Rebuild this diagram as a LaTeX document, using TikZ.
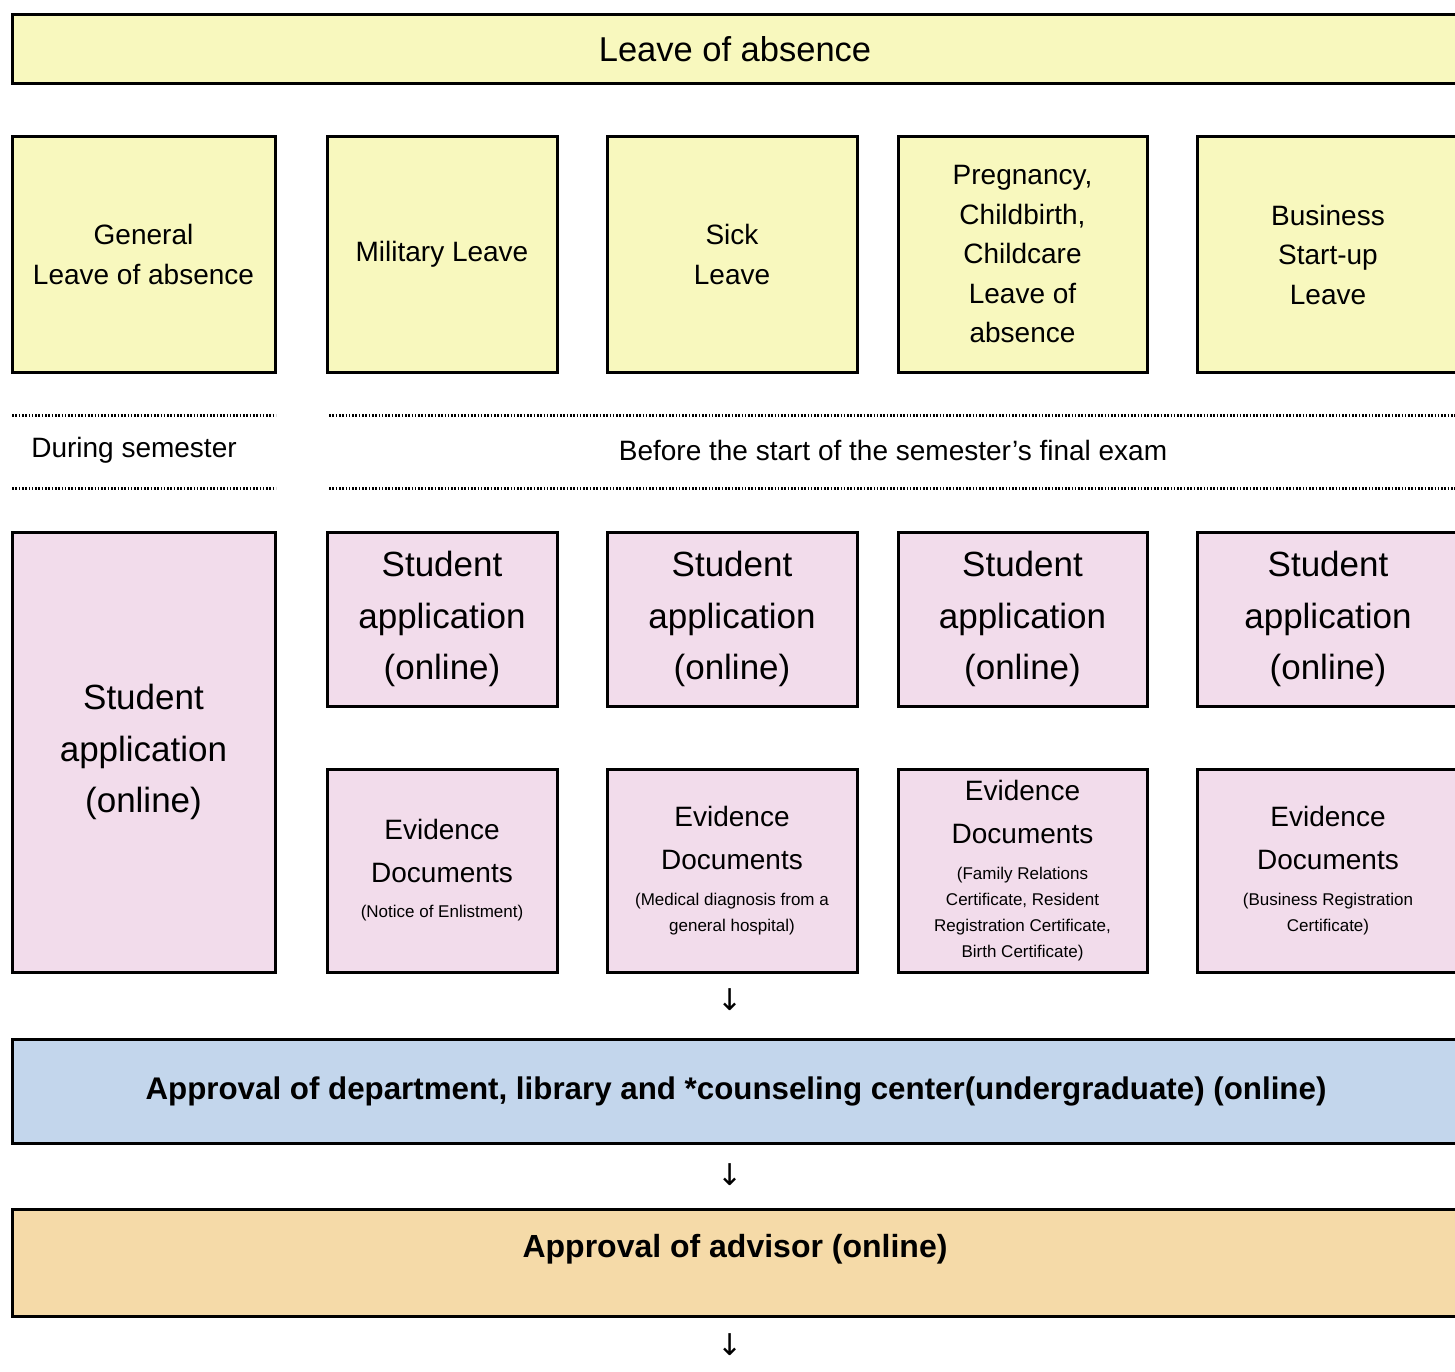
\documentclass[tikz,border=0pt]{standalone}
\usepackage{fontspec}
\setmainfont{Liberation Sans}
\newfontfamily\arrowfont{DejaVu Sans}
\definecolor{ybg}{HTML}{F8F8BE}
\definecolor{pbg}{HTML}{F2DCEB}
\definecolor{bbg}{HTML}{C3D6EC}
\definecolor{obg}{HTML}{F5DAA8}
\tikzset{
  box/.style={draw=black, line width=3pt, anchor=north west, inner sep=0pt, outer sep=0pt, align=center, text=black},
  ybox/.style={box, fill=ybg, font=\fontsize{28}{39.5}\selectfont, minimum height=235},
  sabox/.style={box, fill=pbg, font=\fontsize{35}{51.5}\selectfont, minimum height=174},
  evbox/.style={box, fill=pbg, font=\fontsize{28}{43}\selectfont, minimum height=203},
  dotline/.style={line width=3pt, dash pattern=on 1.6pt off 1.7pt},
  plain/.style={font=\fontsize{28}{34}\selectfont, inner sep=0pt},
  downarrow/.style={font=\arrowfont\fontsize{30}{30}\selectfont, inner sep=0pt}
}
\newcommand{\sm}{\fontsize{17}{26}\selectfont}
\begin{document}
\begin{tikzpicture}[x=1pt,y=1pt]
\useasboundingbox (0,0) rectangle (1455,-1372);
\clip (0,0) rectangle (1455,-1372);
\fill[white] (0,0) rectangle (1455,-1372);

% title
\node[box, fill=ybg, minimum width=1446, minimum height=69, font=\fontsize{34.5}{40}\selectfont] (title) at (12,-15) {Leave of absence};

% row 1
\node[ybox, minimum width=263] (gen) at (12,-137) {General\\Leave of absence};
\node[ybox, minimum width=230] (mil) at (327,-137) {Military Leave};
\node[ybox, minimum width=250] (sick) at (607,-137) {Sick\\Leave};
\node[ybox, minimum width=249] (preg) at (898,-137) {Pregnancy,\\Childbirth,\\Childcare\\Leave of\\absence};
\node[ybox, minimum width=262] (bus) at (1197,-137) {Business\\Start-up\\Leave};

% dotted separators
\draw[dotline] (12,-415) -- (276,-415);
\draw[dotline] (329,-415) -- (1455,-415);
\draw[dotline] (12,-488) -- (276,-488);
\draw[dotline] (329,-488) -- (1455,-488);
\node[plain] (during) at (134,-450) {During semester};
\node[plain] (before) at (893,-450) {Before the start of the semester’s final exam};

% row 2
\node[sabox, minimum width=263, minimum height=440] (sa1) at (12,-532) {Student\\application\\(online)};
\node[sabox, minimum width=230] (sa2) at (327,-532) {Student\\application\\(online)};
\node[sabox, minimum width=250] (sa3) at (607,-532) {Student\\application\\(online)};
\node[sabox, minimum width=249] (sa4) at (898,-532) {Student\\application\\(online)};
\node[sabox, minimum width=262] (sa5) at (1197,-532) {Student\\application\\(online)};

% evidence
\node[evbox, minimum width=230] (ev2) at (327,-769) {Evidence\\Documents\\[-8pt]\sm (Notice of Enlistment)};
\node[evbox, minimum width=250] (ev3) at (607,-769) {Evidence\\Documents\\[-7pt]\sm (Medical diagnosis from a\\[-17pt]\sm general hospital)};
\node[evbox, minimum width=249] (ev4) at (898,-769) {Evidence\\Documents\\[-7pt]\sm (Family Relations\\[-17pt]\sm Certificate, Resident\\[-17pt]\sm Registration Certificate,\\[-17pt]\sm Birth Certificate)};
\node[evbox, minimum width=262] (ev5) at (1197,-769) {Evidence\\Documents\\[-7pt]\sm (Business Registration\\[-17pt]\sm Certificate)};

% arrows and approvals
\node[downarrow] (ar1) at (730,-1000) {↓};
\node[box, fill=bbg, minimum width=1448, minimum height=104, font=\bfseries\fontsize{31.3}{36}\selectfont] (dept) at (12,-1039) {Approval of department, library and *counseling center(undergraduate) (online)};
\node[downarrow] (ar2) at (730,-1175) {↓};
\node[box, fill=obg, minimum width=1446, minimum height=107, font=\bfseries\fontsize{32}{34}\selectfont] (adv) at (12,-1209) {Approval of advisor (online)\\\mbox{}};
\node[downarrow] (ar3) at (730,-1345) {↓};
\end{tikzpicture}
\end{document}
